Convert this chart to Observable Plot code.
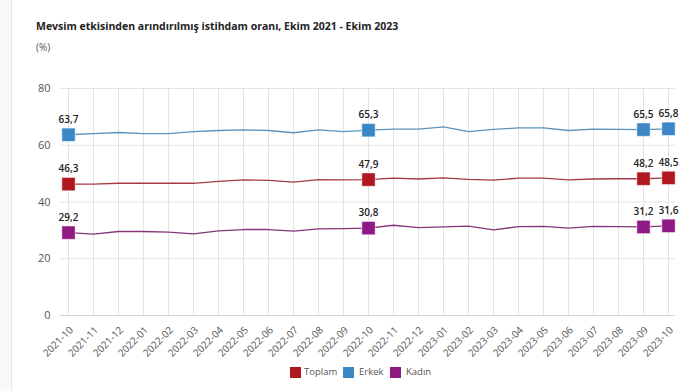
<!DOCTYPE html>
<html>
<head>
<meta charset="utf-8">
<script src="https://cdn.jsdelivr.net/npm/d3@7"></script>
<script src="https://cdn.jsdelivr.net/npm/@observablehq/plot@0.6"></script>
<style>
  html, body { margin: 0; padding: 0; background: #fff; }
  body { width: 700px; height: 391px; position: relative; overflow: hidden; font-family: "Open Sans", "Noto Sans", sans-serif; }
  #strip { position: absolute; left: 0; top: 0; width: 11px; height: 391px; background: #f9f9f9; border-right: 1px solid #e6e6e6; }
  #head { height: 60px; position: relative; }
  #title { position: absolute; left: 36px; top: 19px; font-size: 10.5px; font-weight: 700; color: #222; white-space: nowrap; }
  #sub { position: absolute; left: 36px; top: 40px; font-size: 10px; color: #555; }
  #legend { position: relative; height: 36px; }
  .sw { position: absolute; top: 12px; width: 11px; height: 11px; }
  .lt { position: absolute; top: 9px; font-size: 9.5px; color: #555; line-height: 16px; white-space: nowrap; }
  svg { overflow: visible; }
</style>
</head>
<body>
<div id="strip"></div>
<div id="head">
  <div id="title">Mevsim etkisinden arındırılmış istihdam oranı, Ekim 2021 - Ekim 2023</div>
  <div id="sub">(%)</div>
</div>
<div id="chart"></div>
<div id="legend"></div>
<script>
const months = ["2021-10","2021-11","2021-12","2022-01","2022-02","2022-03","2022-04","2022-05","2022-06","2022-07","2022-08","2022-09","2022-10","2022-11","2022-12","2023-01","2023-02","2023-03","2023-04","2023-05","2023-06","2023-07","2023-08","2023-09","2023-10"];
const toplam = [46.3,46.3,46.6,46.6,46.6,46.6,47.3,47.8,47.6,47.0,47.9,47.8,47.9,48.4,48.1,48.5,48.0,47.7,48.4,48.4,47.8,48.1,48.2,48.2,48.5];
const erkek  = [63.7,64.1,64.5,64.1,64.1,64.8,65.2,65.4,65.2,64.4,65.4,64.8,65.3,65.7,65.7,66.5,64.8,65.6,66.1,66.1,65.2,65.7,65.6,65.5,65.8];
const kadin  = [29.2,28.7,29.6,29.6,29.4,28.8,29.8,30.3,30.3,29.7,30.5,30.6,30.8,31.8,31.0,31.2,31.5,30.2,31.3,31.4,30.8,31.4,31.3,31.2,31.6];
const labelled = ["2021-10","2022-10","2023-09","2023-10"];
const seriesNames = ["Toplam","Erkek","Kadın"];
const seriesColors = ["#b01820","#3b87c6","#901a84"];
const lineColors = ["#a33a44","#5a93bd","#85357a"];
const yTicks = [0,20,40,60,80];

const rows = [];
[toplam, erkek, kadin].forEach((vals, i) => {
  vals.forEach((v, j) => rows.push({month: months[j], value: v, series: seriesNames[i]}));
});
const marked = rows.filter(d => labelled.includes(d.month));
const fmt = v => v.toFixed(1).replace(".", ",");

const chart = Plot.plot({
  width: 700,
  height: 295,
  marginLeft: 60,
  marginRight: 25,
  marginTop: 28,
  marginBottom: 40,
  style: {fontFamily: "'Open Sans', 'Noto Sans', sans-serif", background: "transparent"},
  x: {type: "point", domain: months, padding: 0},
  y: {domain: [0, 80]},
  color: {domain: seriesNames, range: seriesColors},
  marks: [
    Plot.gridX(months, {stroke: "#e4e4e4", strokeOpacity: 1}),
    Plot.gridY(yTicks.filter(t => t > 0), {stroke: "#e4e4e4", strokeOpacity: 1}),
    Plot.ruleY([0], {stroke: "#d6d6d6"}),
    Plot.axisY({ticks: yTicks, tickSize: 0, tickPadding: 10, fontSize: 11, fill: "#555", label: null}),
    Plot.axisX({ticks: months, tickSize: 0, tickRotate: -45, tickPadding: 13, dx: 3, fontSize: 10, fill: "#555", label: null}),
    Plot.line(rows, {x: "month", y: "value", z: "series", stroke: d => lineColors[seriesNames.indexOf(d.series)], strokeWidth: 1.3}),
    Plot.dot(marked, {x: "month", y: "value", fill: "series", symbol: "square", r: 7.5, stroke: "#ffffff", strokeWidth: 0.8, strokeOpacity: 0.6}),
    Plot.text(marked, {x: "month", y: "value", text: d => fmt(d.value), dy: -15, fontSize: 10, fontWeight: 600, fill: "#222"})
  ]
});
document.getElementById("chart").appendChild(chart);

const legend = document.getElementById("legend");
const swX = [290, 343, 390];
const txX = [304, 359, 406];
seriesNames.forEach((name, i) => {
  const sw = document.createElement("div");
  sw.className = "sw";
  sw.style.left = swX[i] + "px";
  sw.style.background = seriesColors[i];
  legend.appendChild(sw);
  const t = document.createElement("div");
  t.className = "lt";
  t.style.left = txX[i] + "px";
  t.textContent = name;
  legend.appendChild(t);
});
</script>
</body>
</html>
